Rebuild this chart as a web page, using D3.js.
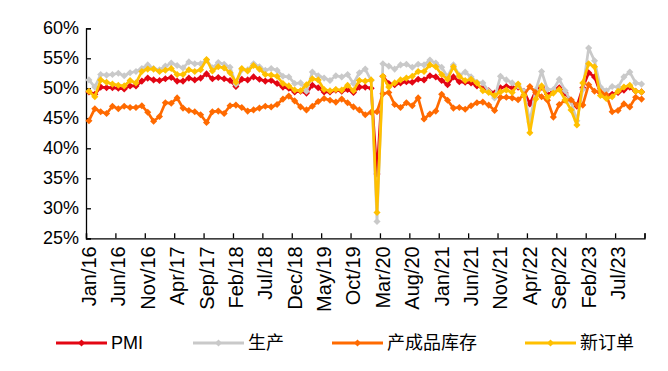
<!DOCTYPE html>
<html>
<head>
<meta charset="utf-8">
<script src="https://cdn.jsdelivr.net/npm/d3@7/dist/d3.min.js"></script>
<style>
  html, body { margin: 0; padding: 0; background: #fff; }
  svg { display: block; }
  text { font-family: "Liberation Sans", Arial, "Noto Sans CJK SC", sans-serif; fill: #000; }
</style>
</head>
<body>
<div id="chart"></div>
<script>
// Monthly series, Jan 2016 – Nov 2023 (index values, %)
const startYear = 2016;
const monthCount = 95;
const monthNames = ["Jan","Feb","Mar","Apr","May","Jun","Jul","Aug","Sep","Oct","Nov","Dec"];

const pmi = [
  49.4, 49.0, 50.2, 50.1, 50.1, 50.0, 49.9, 50.4, 50.4, 51.2, 51.7, 51.4,
  51.3, 51.6, 51.8, 51.2, 51.2, 51.7, 51.4, 51.7, 52.4, 51.6, 51.8, 51.6,
  51.3, 50.3, 51.5, 51.4, 51.9, 51.5, 51.2, 51.3, 50.8, 50.2, 50.0, 49.4,
  49.5, 49.2, 50.5, 50.1, 49.4, 49.4, 49.7, 49.5, 49.8, 49.3, 50.2, 50.2,
  50.0, 35.7, 52.0, 50.8, 50.6, 50.9, 51.1, 51.0, 51.5, 51.4, 52.1, 51.9,
  51.3, 50.6, 51.9, 51.1, 51.0, 50.9, 50.4, 50.1, 49.6, 49.2, 50.1, 50.3,
  50.1, 50.2, 49.5, 47.4, 49.6, 50.2, 49.0, 49.4, 50.1, 49.2, 48.0, 47.0,
  50.1, 52.6, 51.9, 49.2, 48.8, 49.0, 49.3, 49.7, 50.2, 49.5, 49.4
];

const production = [
  51.4, 50.2, 52.3, 52.2, 52.3, 52.5, 52.1, 52.6, 52.8, 53.3, 53.9, 53.3,
  53.1, 53.7, 54.2, 53.8, 53.4, 54.4, 54.1, 54.1, 54.7, 53.4, 54.3, 54.0,
  53.5, 50.7, 53.1, 53.1, 54.1, 53.6, 53.0, 53.3, 53.0, 52.0, 51.9, 50.8,
  50.9, 49.5, 52.7, 52.1, 51.7, 51.3, 52.1, 51.9, 52.3, 50.8, 52.6, 53.2,
  51.3, 27.8, 54.1, 53.7, 53.2, 53.9, 54.0, 53.5, 54.0, 53.9, 54.7, 54.2,
  53.5, 51.9, 53.9, 52.2, 52.7, 51.9, 51.0, 50.9, 49.5, 48.4, 52.0, 51.4,
  50.9, 50.4, 49.5, 44.4, 49.7, 52.8, 49.8, 49.8, 51.5, 49.6, 47.8, 44.6,
  49.8, 56.7, 54.6, 50.2, 49.6, 50.3, 50.2, 51.9, 52.7, 50.9, 50.7
];

const inventory = [
  44.6, 46.6, 46.1, 45.8, 47.0, 46.6, 47.0, 46.8, 46.8, 47.1, 46.0, 44.5,
  45.3, 47.6, 47.5, 48.4, 46.7, 46.3, 46.1, 45.6, 44.3, 46.1, 46.2, 45.8,
  47.1, 47.2, 46.8, 46.2, 46.4, 46.7, 47.0, 46.9, 47.3, 48.2, 48.7, 47.9,
  46.9, 46.4, 47.0, 47.8, 48.3, 48.0, 47.7, 48.2, 47.6, 46.9, 46.4, 45.6,
  46.0, 46.1, 49.1, 49.3, 47.3, 46.8, 47.6, 47.1, 48.4, 44.9, 45.7, 46.2,
  49.0, 48.0, 46.7, 46.8, 46.5, 47.1, 47.6, 47.7, 47.2, 46.3, 48.5, 48.5,
  48.4, 48.1, 48.9, 50.3, 49.3, 48.6, 48.0, 45.2, 47.3, 48.0, 48.1, 47.2,
  47.2, 50.6, 49.5, 49.4, 48.9, 46.1, 46.3, 47.4, 46.9, 48.5, 48.2
];

const newOrders = [
  49.5, 48.6, 51.4, 51.0, 50.7, 50.5, 50.4, 51.3, 50.9, 52.8, 53.2, 53.2,
  52.8, 53.0, 53.3, 52.3, 52.3, 53.1, 52.8, 53.1, 54.8, 52.9, 53.6, 53.4,
  52.6, 51.0, 53.3, 52.9, 53.8, 53.2, 52.3, 52.2, 52.0, 50.8, 50.4, 49.7,
  49.6, 50.6, 51.6, 51.4, 49.8, 49.6, 49.8, 49.7, 50.5, 49.6, 51.3, 51.2,
  51.4, 29.3, 52.0, 50.2, 50.9, 51.4, 51.7, 52.0, 52.8, 52.8, 53.9, 53.6,
  52.3, 51.5, 53.6, 52.0, 51.3, 51.5, 50.9, 49.6, 49.3, 48.8, 49.4, 49.7,
  49.3, 50.7, 48.8, 42.6, 48.2, 50.4, 48.5, 49.2, 49.8, 48.1, 46.4, 43.9,
  50.9, 54.1, 53.6, 48.8, 48.3, 48.6, 49.5, 50.2, 50.5, 49.5, 49.4
];

const seriesNames = ["PMI", "生产", "产成品库存", "新订单"];
const seriesColors = ["#E30613", "#C9C9C9", "#FF6A00", "#FFC000"];
const seriesValues = [pmi, production, inventory, newOrders];

const yTicks = [25, 30, 35, 40, 45, 50, 55, 60];
const labelStep = 5;

// Category labels such as "Jan/16"
const categories = d3.range(monthCount).map(i => {
  const yr = startYear + Math.floor(i / 12);
  return monthNames[i % 12] + "/" + String(yr).slice(2);
});

const W = 668, H = 371;
const plotLeft = 86, plotRight = 644.5, plotTop = 28.3, plotBottom = 238.3;

const svg = d3.select("#chart").append("svg")
  .attr("width", W).attr("height", H);
svg.append("rect").attr("width", W).attr("height", H).attr("fill", "#fff");

// Category axis: one slot per month, marks at slot centres
const x = d3.scaleLinear().domain([0, monthCount]).range([plotLeft, plotRight]);
const cx = i => x(i + 0.5);
const y = d3.scaleLinear().domain([25, 60]).range([plotBottom, plotTop]);

// Value axis (ticks pointing into the plot)
const yAxis = d3.axisRight(y).tickValues(yTicks).tickSize(5).tickFormat(() => "");
const gy = svg.append("g").attr("transform", `translate(${plotLeft},0)`).call(yAxis);
gy.select(".domain").attr("stroke", "#000").attr("stroke-width", 1.3);
gy.selectAll(".tick line").attr("stroke", "#000").attr("stroke-width", 1.3);

svg.append("g").selectAll("text").data(yTicks).join("text")
  .attr("x", plotLeft - 7).attr("y", d => y(d))
  .attr("text-anchor", "end").attr("dominant-baseline", "central")
  .attr("font-size", 18)
  .text(d => d + "%");

// Category axis line with tick marks every 5 months on slot boundaries
const bTicks = d3.range(0, monthCount + 1, labelStep);
const xAxis = d3.axisTop(x).tickValues(bTicks).tickSize(5).tickFormat(() => "");
const gx = svg.append("g").attr("transform", `translate(0,${plotBottom})`).call(xAxis);
gx.select(".domain").attr("stroke", "#000").attr("stroke-width", 1.3);
gx.selectAll(".tick line").attr("stroke", "#000").attr("stroke-width", 1.3);

const labelIdx = d3.range(0, monthCount, labelStep);
svg.append("g").selectAll("text").data(labelIdx).join("text")
  .attr("transform", i => `translate(${cx(i)},${plotBottom + 8}) rotate(-90)`)
  .attr("text-anchor", "end").attr("dominant-baseline", "central")
  .attr("font-size", 20)
  .text(i => categories[i]);

// Lines with diamond markers
const diamond = d3.symbol().type(d3.symbolDiamond2).size(32);
const line = d3.line().x((d, i) => cx(i)).y(d => y(d));

seriesValues.forEach((vals, k) => {
  const g = svg.append("g");
  g.append("path").datum(vals)
    .attr("d", line)
    .attr("fill", "none")
    .attr("stroke", seriesColors[k])
    .attr("stroke-width", 2.7)
    .attr("stroke-linejoin", "round");
  g.selectAll("path.m").data(vals).join("path")
    .attr("class", "m")
    .attr("d", diamond)
    .attr("transform", (d, i) => `translate(${cx(i)},${y(d)})`)
    .attr("fill", seriesColors[k]);
});

// Legend
const legendX = [56, 193, 332, 525];
const legendY = 343;
const lg = svg.append("g");
seriesNames.forEach((name, k) => {
  const x0 = legendX[k];
  lg.append("line")
    .attr("x1", x0).attr("x2", x0 + 51)
    .attr("y1", legendY).attr("y2", legendY)
    .attr("stroke", seriesColors[k]).attr("stroke-width", 3);
  lg.append("path")
    .attr("d", diamond)
    .attr("transform", `translate(${x0 + 25.5},${legendY})`)
    .attr("fill", seriesColors[k]);
  lg.append("text")
    .attr("x", x0 + 55).attr("y", legendY)
    .attr("dominant-baseline", "central")
    .attr("font-size", 18)
    .text(name);
});
</script>
</body>
</html>
